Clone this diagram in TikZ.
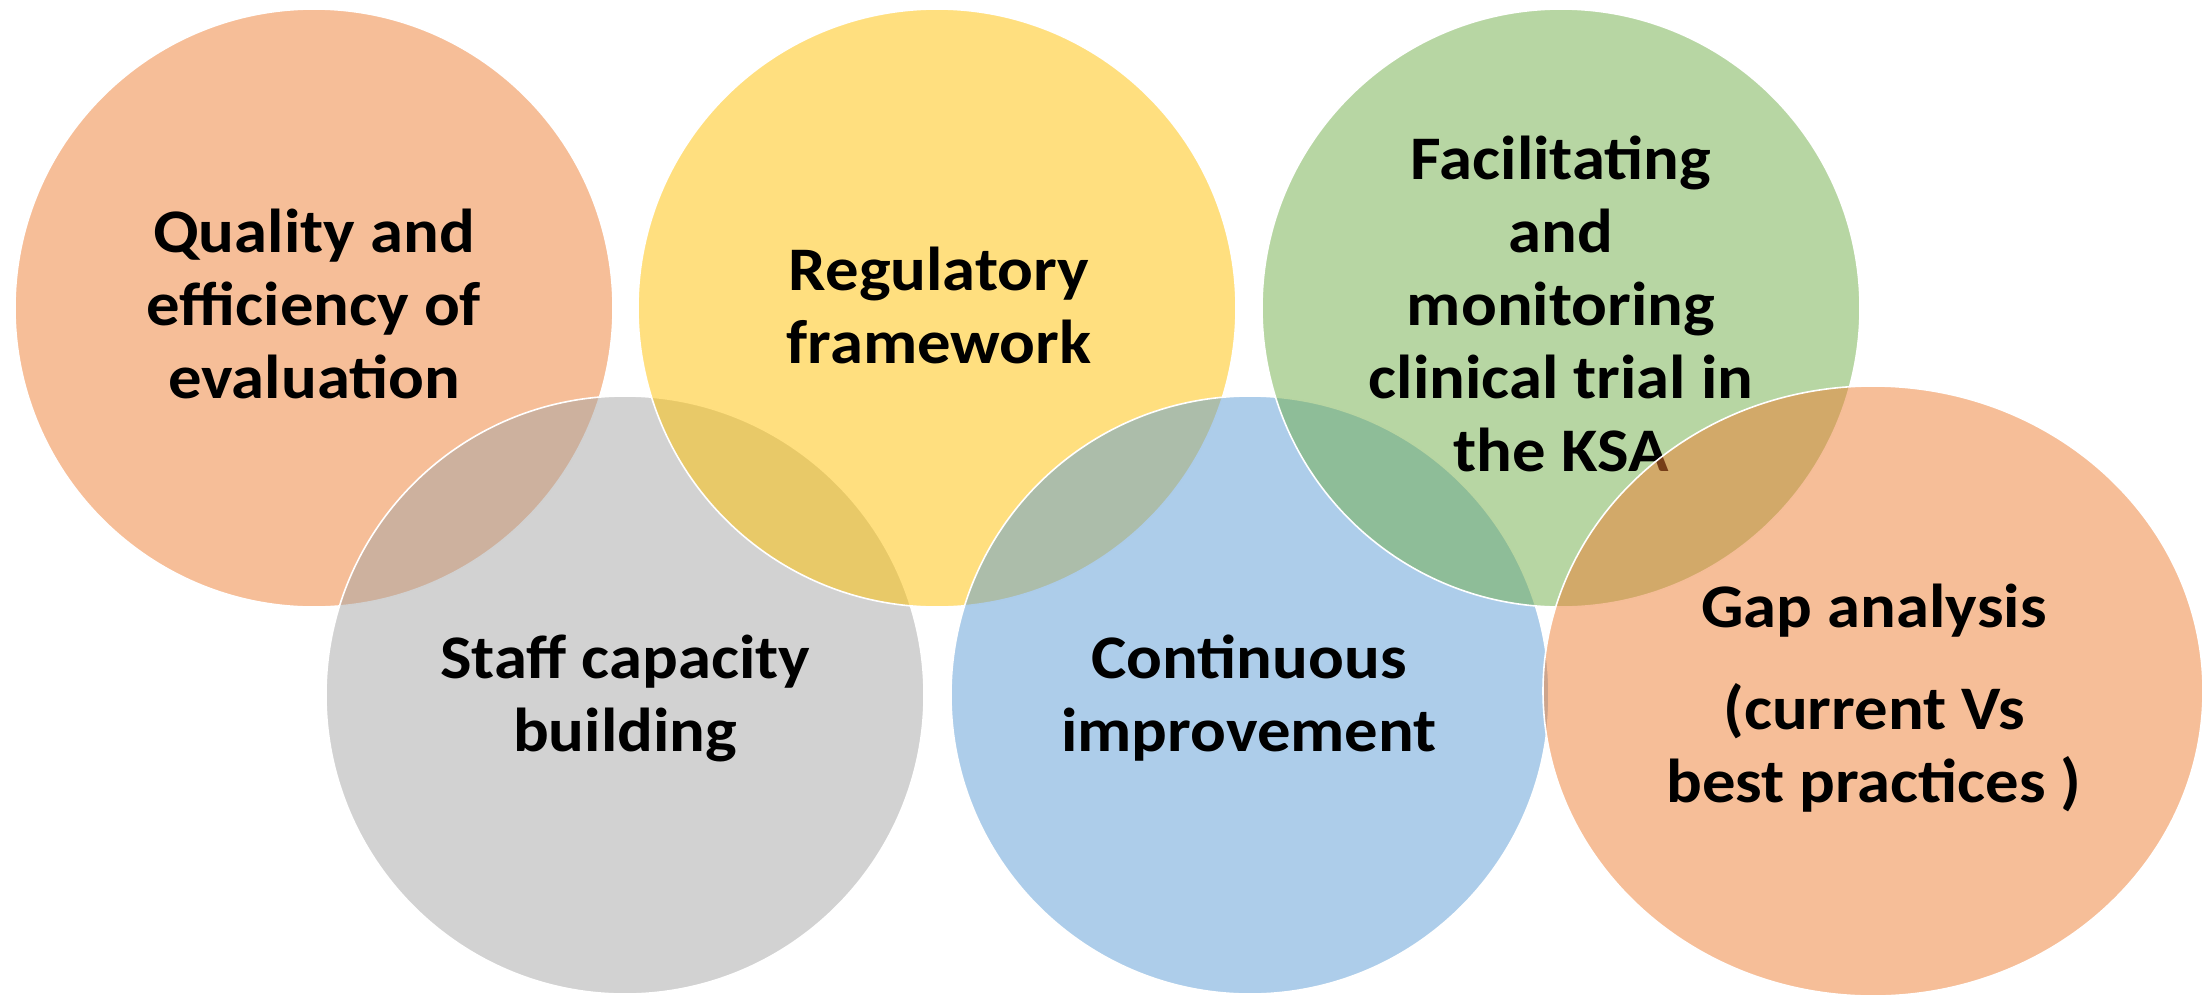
\documentclass[tikz,border=0pt]{standalone}
\usepackage{fontspec}
\setmainfont{Carlito}[FakeStretch=1.076]
\usetikzlibrary{shapes.geometric}
\definecolor{cOrange}{HTML}{ED7D31}
\definecolor{cYellow}{HTML}{FFC000}
\definecolor{cGreen}{HTML}{70AD47}
\definecolor{cGray}{HTML}{A5A5A5}
\definecolor{cBlue}{HTML}{5B9BD5}
\begin{document}
\begin{tikzpicture}[x=0.5pt,y=-0.5pt,
  blob/.style={circle, minimum size=299pt, inner sep=0pt, draw=white, line width=0.8pt, fill opacity=0.5},
  oval/.style={ellipse, minimum width=330pt, minimum height=305pt, inner sep=0pt, draw=white, line width=0.8pt, fill opacity=0.5},
  lbl/.style={align=center, font=\bfseries\fontsize{31}{36.5}\selectfont, text=black, inner sep=0pt}]
\useasboundingbox (0,0) rectangle (2211,997);
% order: orange, gray, yellow, blue, green, gap ellipse
\node[blob, fill=cOrange] (c1) at (314,308) {};
\node[lbl] (t1) at (314,304) {Quality and\\efficiency of\\evaluation};
\node[blob, fill=cGray] (c4) at (625,695) {};
\node[lbl] (t4) at (625,698) {Staff capacity\\building};
\node[blob, fill=cYellow] (c2) at (937,308) {};
\node[lbl] (t2) at (939,305) {Regulatory\\framework};
\node[blob, fill=cBlue] (c5) at (1250,695) {};
\node[lbl] (t5) at (1249,698) {Continuous\\improvement};
\node[blob, fill=cGreen] (c3) at (1561,308) {};
\node[lbl] (t3) at (1561,304) {Facilitating\\and\\monitoring\\clinical trial in\\the KSA};
\node[oval, fill=cOrange] (c6) at (1873,691) {};
\node[lbl] (t6) at (1874,698) {Gap analysis\\[14.5pt](current Vs\\best practices )};
\end{tikzpicture}
\end{document}
